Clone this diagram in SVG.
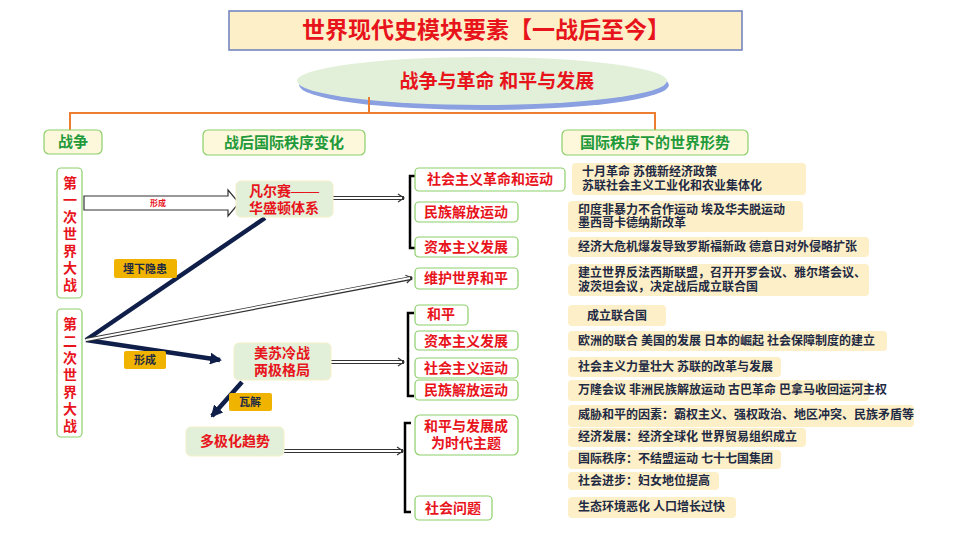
<svg xmlns="http://www.w3.org/2000/svg" width="960" height="540" viewBox="0 0 960 540">
<defs>
<style>
text{font-family:"Liberation Serif","Noto Sans CJK SC",serif;font-weight:bold}
.g{fill:#fff;stroke:#8ccf6a;stroke-width:1.2}
.gf{fill:#e2f0d9;stroke:#f5f0c8;stroke-width:1}
.r{fill:#e8141c;font-size:14px}
.gt{fill:#1f9a3a;font-size:15px}
.i{fill:#fdf0c8}
.it{fill:#1f2a44;font-size:12px}
.lb{fill:#f0b400}
.lt{fill:#1f2a44;font-size:11px}
.br{fill:none;stroke:#000;stroke-width:2.5}
.dbl{fill:none;stroke:#333;stroke-width:4}
.dbw{fill:none;stroke:#fff;stroke-width:2}
.nv{stroke:#0f1f4a;stroke-width:4.5;fill:none}
</style>
<marker id="ah" markerWidth="12" markerHeight="12" refX="10" refY="6" orient="auto" markerUnits="userSpaceOnUse"><path d="M0,0L12,6L0,12z" fill="#0f1f4a"/></marker>
<marker id="dh" markerWidth="10" markerHeight="10" refX="8" refY="5" orient="auto" markerUnits="userSpaceOnUse"><path d="M2,1L8,5L2,9" fill="none" stroke="#333" stroke-width="1.2"/></marker>
</defs>
<g id="title"><rect x="229" y="11" width="513" height="39" fill="#fdf0c8" stroke="#6c7fc0" stroke-width="1.5"/><text x="486" y="38" text-anchor="middle" fill="#e8141c" font-size="23">世界现代史模块要素【一战后至今】</text></g>
<g id="theme"><ellipse cx="484" cy="85" rx="185" ry="25" fill="#8aa0e0"/><ellipse cx="482" cy="81" rx="185" ry="24" fill="#e2f0d9"/><text x="497" y="88" text-anchor="middle" fill="#e8141c" font-size="19">战争与革命  和平与发展</text></g>
<g id="connectors">
<path d="M369,97V113M70,131V113H655V131" fill="none" stroke="#ed7d31" stroke-width="2"/>
<path d="M84,196H228V190L239,203L228,216V210H84Z" fill="#fff" stroke="#333" stroke-width="1.2"/>
<text x="158" y="206" text-anchor="middle" fill="#e8141c" font-size="8">形成</text>
<path class="nv" d="M86,340L265,218"/>
<path class="nv" d="M86,340L220,360" marker-end="url(#ah)"/>
<path class="nv" d="M242,382L212,416" marker-end="url(#ah)"/>
<path class="dbl" d="M86,340L412,278" marker-end="url(#dh)"/><path class="dbw" d="M86,340L410,278"/>
<path class="dbl" d="M333,198H404" marker-end="url(#dh)"/><path class="dbw" d="M333,198H402"/>
<path class="dbl" d="M331,362H404" marker-end="url(#dh)"/><path class="dbw" d="M331,362H402"/>
<path class="dbl" d="M284,451H403" marker-end="url(#dh)"/><path class="dbw" d="M284,451H401"/>
<path class="br" d="M416,176H410V248H416"/>
<path class="br" d="M414,313H408V396H414"/>
<path class="br" d="M411,423H405V512H411"/>
<rect class="lb" x="114" y="259" width="63" height="19" rx="2"/><text class="lt" x="145" y="273" text-anchor="middle">埋下隐患</text>
<rect class="lb" x="124" y="351" width="42" height="18" rx="2"/><text class="lt" x="145" y="364" text-anchor="middle">形成</text>
<rect class="lb" x="229" y="393" width="43" height="18" rx="2"/><text class="lt" x="250" y="406" text-anchor="middle">瓦解</text>
</g>
<g id="h1"><rect class="g" x="44" y="130" width="58" height="24" rx="5" style="fill:#fdf8dc"/><text class="gt" x="73" y="147" text-anchor="middle">战争</text></g>
<g id="h2"><rect class="g" x="203" y="130" width="162" height="25" rx="5" style="fill:#fdf8dc"/><text class="gt" x="284" y="148" text-anchor="middle">战后国际秩序变化</text></g>
<g id="h3"><rect class="g" x="562" y="130" width="186" height="25" rx="5" style="fill:#fdf8dc"/><text class="gt" x="655" y="148" text-anchor="middle">国际秩序下的世界形势</text></g>
<g id="ww1"><rect class="g" x="57" y="168" width="25" height="130" rx="4"/><text class="r" x="70" y="188" text-anchor="middle"><tspan x="70">第</tspan><tspan x="70" dy="17">一</tspan><tspan x="70" dy="17">次</tspan><tspan x="70" dy="17">世</tspan><tspan x="70" dy="17">界</tspan><tspan x="70" dy="17">大</tspan><tspan x="70" dy="17">战</tspan></text></g>
<g id="ww2"><rect class="g" x="57" y="309" width="25" height="128" rx="4"/><text class="r" x="70" y="329" text-anchor="middle"><tspan x="70">第</tspan><tspan x="70" dy="17">二</tspan><tspan x="70" dy="17">次</tspan><tspan x="70" dy="17">世</tspan><tspan x="70" dy="17">界</tspan><tspan x="70" dy="17">大</tspan><tspan x="70" dy="17">战</tspan></text></g>
<g id="vw"><rect class="gf" x="236" y="181" width="97" height="36" rx="5"/><text class="r" x="284" y="196" text-anchor="middle">凡尔赛——</text><text class="r" x="284" y="213" text-anchor="middle">华盛顿体系</text></g>
<g id="cw"><rect class="gf" x="234" y="343" width="97" height="37" rx="5"/><text class="r" x="282" y="358" text-anchor="middle">美苏冷战</text><text class="r" x="282" y="375" text-anchor="middle">两极格局</text></g>
<g id="mp"><rect class="gf" x="186" y="427" width="98" height="29" rx="5"/><text class="r" x="235" y="446" text-anchor="middle">多极化趋势</text></g>
<g id="r1"><rect class="g" x="415" y="168" width="150" height="23" rx="4"/><text class="r" x="490" y="184" text-anchor="middle">社会主义革命和运动</text></g>
<g id="r2"><rect class="g" x="415" y="202" width="103" height="20" rx="4"/><text class="r" x="466" y="217" text-anchor="middle">民族解放运动</text></g>
<g id="r3"><rect class="g" x="415" y="237" width="103" height="20" rx="4"/><text class="r" x="466" y="252" text-anchor="middle">资本主义发展</text></g>
<g id="r4"><rect class="g" x="415" y="268" width="103" height="21" rx="4"/><text class="r" x="466" y="283" text-anchor="middle">维护世界和平</text></g>
<g id="r5"><rect class="g" x="415" y="305" width="53" height="20" rx="4"/><text class="r" x="441" y="319" text-anchor="middle">和平</text></g>
<g id="r6"><rect class="g" x="415" y="331" width="103" height="19" rx="4"/><text class="r" x="466" y="346" text-anchor="middle">资本主义发展</text></g>
<g id="r7"><rect class="g" x="415" y="358" width="103" height="20" rx="4"/><text class="r" x="466" y="373" text-anchor="middle">社会主义运动</text></g>
<g id="r8"><rect class="g" x="415" y="380" width="103" height="20" rx="4"/><text class="r" x="466" y="395" text-anchor="middle">民族解放运动</text></g>
<g id="r9"><rect class="g" x="415" y="415" width="103" height="40" rx="5"/><text class="r" x="466" y="431" text-anchor="middle">和平与发展成</text><text class="r" x="466" y="448" text-anchor="middle">为时代主题</text></g>
<g id="r10"><rect class="g" x="415" y="496" width="77" height="24" rx="4"/><text class="r" x="453" y="513" text-anchor="middle">社会问题</text></g>
<g id="i1"><rect class="i" x="572" y="163" width="234" height="32" rx="4"/><text class="it" x="582" y="176">十月革命  苏俄新经济政策</text><text class="it" x="582" y="190">苏联社会主义工业化和农业集体化</text></g>
<g id="i2"><rect class="i" x="568" y="201" width="235" height="31" rx="4"/><text class="it" x="578" y="214">印度非暴力不合作运动  埃及华夫脱运动</text><text class="it" x="578" y="227">墨西哥卡德纳斯改革</text></g>
<g id="i3"><rect class="i" x="568" y="237" width="301" height="20" rx="4"/><text class="it" x="578" y="251">经济大危机爆发导致罗斯福新政  德意日对外侵略扩张</text></g>
<g id="i4"><rect class="i" x="568" y="264" width="301" height="32" rx="4"/><text class="it" x="578" y="277">建立世界反法西斯联盟，召开开罗会议、雅尔塔会议、</text><text class="it" x="578" y="291">波茨坦会议，决定战后成立联合国</text></g>
<g id="i5"><rect class="i" x="568" y="305" width="98" height="21" rx="4"/><text class="it" x="617" y="320" text-anchor="middle" font-size="13">成立联合国</text></g>
<g id="i6"><rect class="i" x="568" y="331" width="319" height="20" rx="4"/><text class="it" x="578" y="345">欧洲的联合  美国的发展  日本的崛起  社会保障制度的建立</text></g>
<g id="i7"><rect class="i" x="568" y="357" width="213" height="20" rx="4"/><text class="it" x="578" y="371">社会主义力量壮大 苏联的改革与发展</text></g>
<g id="i8"><rect class="i" x="568" y="380" width="301" height="21" rx="4"/><text class="it" x="578" y="394">万隆会议 非洲民族解放运动 古巴革命 巴拿马收回运河主权</text></g>
<g id="i9"><rect class="i" x="568" y="405" width="346" height="22" rx="4"/><text class="it" x="578" y="419">威胁和平的因素：霸权主义、强权政治、地区冲突、民族矛盾等</text></g>
<g id="i10"><rect class="i" x="568" y="428" width="238" height="19" rx="4"/><text class="it" x="578" y="441">经济发展：经济全球化 世界贸易组织成立</text></g>
<g id="i11"><rect class="i" x="568" y="450" width="213" height="19" rx="4"/><text class="it" x="578" y="463">国际秩序：不结盟运动  七十七国集团</text></g>
<g id="i12"><rect class="i" x="568" y="472" width="151" height="18" rx="4"/><text class="it" x="578" y="485">社会进步：妇女地位提高</text></g>
<g id="i13"><rect class="i" x="568" y="497" width="168" height="21" rx="4"/><text class="it" x="578" y="511">生态环境恶化  人口增长过快</text></g>
</svg>
